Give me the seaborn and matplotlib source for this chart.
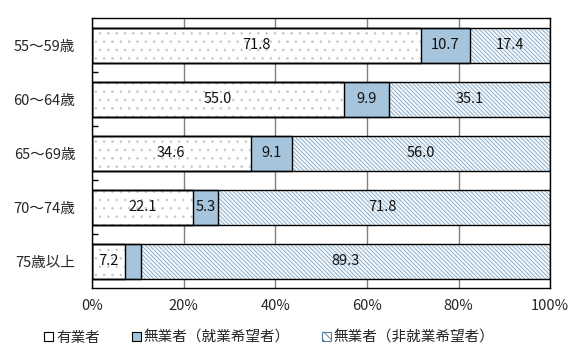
import pandas as pd
import matplotlib.pyplot as plt
import seaborn as sns
from matplotlib.patches import Patch

# data
ages = ['55～59歳', '60～64歳', '65～69歳', '70～74歳', '75歳以上']
employed = [71.8, 55.0, 34.6, 22.1, 7.2]
want_work = [10.7, 9.9, 9.1, 5.3, 3.5]
not_want = [17.4, 35.1, 56.0, 71.8, 89.3]
totals = [100, 100, 100, 100, 100]  # every bar reaches 100%
series_names = ['有業者', '無業者（就業希望者）', '無業者（非就業希望者）']

sns.set_style('white')
plt.rcParams['font.family'] = ['Noto Sans CJK JP', 'DejaVu Sans']
plt.rcParams['hatch.linewidth'] = 0.6

df = pd.DataFrame({'age': ages, 'employed': employed,
                   'want': want_work, 'notwant': not_want, 'total': totals})
df['c1'] = df['employed']
df['c2'] = df['employed'] + df['want']

fig = plt.figure(figsize=(5.86, 3.62), dpi=100)
ax = fig.add_axes([0.157, 0.204, 0.782, 0.746])

# stacked bars by overlapping cumulative totals
layers = [
    ('total', '#f4f8fb', '#7fa6c4', '\\' * 8),
    ('c2', '#a6c5dc', '#a6c5dc', None),
    ('c1', 'white', '#c8c8c8', '..'),
]
for col, face, hcol, hatch in layers:
    sns.barplot(data=df, x=col, y='age', orient='y', color=face,
                width=0.65, ax=ax)
    for p in ax.patches[-len(df):]:
        p.set_facecolor(face)
        p.set_edgecolor(hcol)
        p.set_linewidth(0)
        if hatch:
            p.set_hatch(hatch)

# black outlines on top
for col in ['total', 'c2', 'c1']:
    sns.barplot(data=df, x=col, y='age', orient='y', fill=False,
                width=0.65, ax=ax, linewidth=1.0)
    for p in ax.patches[-len(df):]:
        p.set_edgecolor('black')

# value labels in the middle of each segment
for i, row in df.iterrows():
    starts = [0, row['c1'], row['c2']]
    vals = [row['employed'], row['want'], row['notwant']]
    for s, v in zip(starts, vals):
        if v < 4:
            continue
        ax.text(s + v / 2, i, f'{v:.1f}', ha='center', va='center',
                fontsize=10.5, color='#111111')

ax.set_xlim(0, 100)
ax.set_ylim(len(df) - 0.5, -0.5)
ax.set_xticks([0, 20, 40, 60, 80, 100])
ax.set_xticklabels([f'{t}%' for t in [0, 20, 40, 60, 80, 100]], fontsize=10.5)
ax.xaxis.grid(True, color='#808080', linewidth=1.0)
ax.set_axisbelow(True)
ax.set_xlabel('')
ax.set_ylabel('')
ax.tick_params(axis='y', labelsize=10.5, length=0, pad=12)
ax.tick_params(axis='x', length=0, pad=8)
ax.set_yticks([i + 0.5 for i in range(len(df) - 1)], minor=True)
ax.tick_params(axis='y', which='minor', direction='in', length=4,
               width=1, color='black', left=True)
for s in ax.spines.values():
    s.set_color('black')
    s.set_linewidth(1.0)

handles = [
    Patch(facecolor='white', edgecolor='black', linewidth=0.8),
    Patch(facecolor='#a6c5dc', edgecolor='black', linewidth=0.8),
    Patch(facecolor='white', edgecolor='#4f7c9d', hatch='\\' * 4, linewidth=0.8),
]
fig.legend(handles, series_names, loc='center', bbox_to_anchor=(0.46, 0.067),
           ncol=3, frameon=False, fontsize=10.5, handlelength=0.6,
           handleheight=0.6, handletextpad=0.2, columnspacing=2.2)

fig.savefig('out.png', dpi=100)
